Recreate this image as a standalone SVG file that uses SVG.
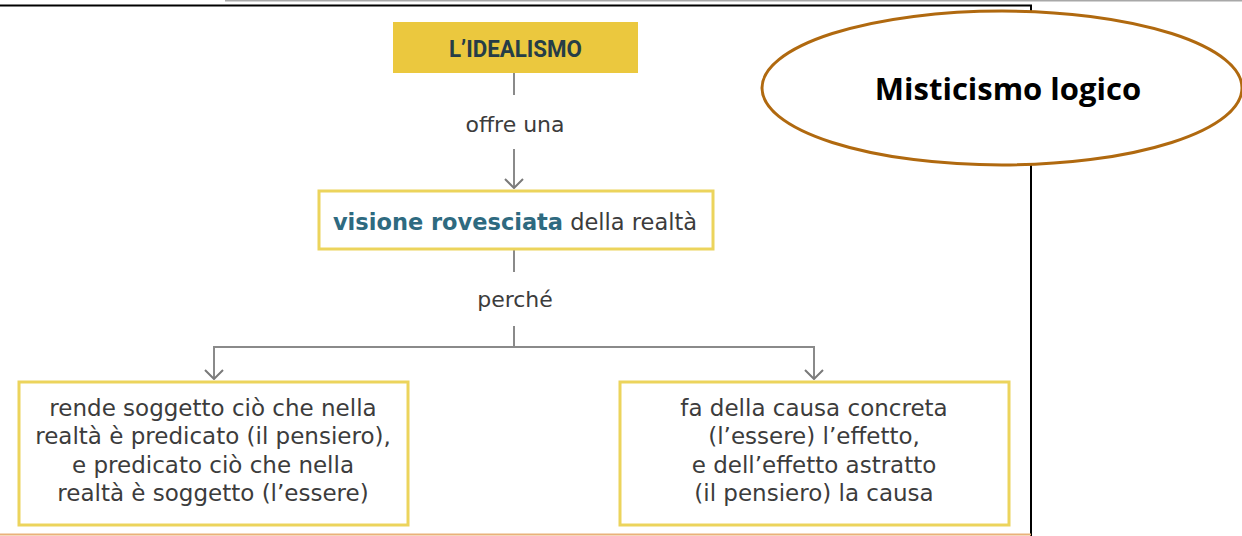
<svg xmlns="http://www.w3.org/2000/svg" width="1242" height="536" viewBox="0 0 1242 536">
<style>
.conn{stroke:#8a8a8a;stroke-width:2;fill:none}
.box{fill:#fff;stroke:#ecd45c;stroke-width:3}
.lbl{font-family:"DejaVu Sans",sans-serif;font-size:22px;fill:#3c3c3c;text-anchor:middle}
.body{font-family:"DejaVu Sans",sans-serif;font-size:23px;fill:#3c3c3c;text-anchor:middle}
</style>
<defs>
<marker id="ah" markerWidth="11" markerHeight="20" refX="10" refY="10" orient="auto-start-reverse" markerUnits="userSpaceOnUse" viewBox="0 0 11 20">
<path d="M1,1 L10,10 L1,19" fill="none" stroke="#7a7a7a" stroke-width="2"/>
</marker>
</defs>
<rect width="1242" height="536" fill="#fff"/>
<g id="frame">
<line x1="225" y1="0.5" x2="1242" y2="0.5" stroke="#a8a8a8" stroke-width="2"/>
<line x1="0" y1="5.5" x2="1032" y2="5.5" stroke="#000" stroke-width="2"/>
<line x1="1031" y1="5" x2="1031" y2="536" stroke="#000" stroke-width="2"/>
<line x1="0" y1="534.5" x2="1031" y2="534.5" stroke="#e9b27a" stroke-width="2"/>
</g>
<g id="connectors">
<line class="conn" x1="514" y1="73" x2="514" y2="95"/>
<line class="conn" x1="514" y1="149" x2="514" y2="188" marker-end="url(#ah)"/>
<line class="conn" x1="514" y1="250" x2="514" y2="272"/>
<line class="conn" x1="514" y1="326" x2="514" y2="348"/>
<path class="conn" d="M214,379 V347 H814 V379" marker-start="url(#ah)" marker-end="url(#ah)"/>
<text class="lbl" x="515" y="132">offre una</text>
<text class="lbl" x="515" y="307">perché</text>
</g>
<g id="node-idealismo">
<rect x="393" y="22" width="245" height="51" fill="#ebc83e"/>
<text x="449" y="57" font-family="Roboto,'Open Sans',sans-serif" font-weight="bold" font-size="23" fill="#263d47" textLength="133" lengthAdjust="spacingAndGlyphs">L’IDEALISMO</text>
</g>
<g id="node-visione">
<rect class="box" x="319" y="191" width="394" height="58"/>
<text x="515" y="230" font-family="'DejaVu Sans',sans-serif" font-size="22.5" text-anchor="middle"><tspan font-weight="bold" fill="#2e6a80">visione rovesciata</tspan><tspan fill="#3c3c3c"> della realtà</tspan></text>
</g>
<g id="node-left">
<rect class="box" x="19" y="382" width="389" height="143"/>
<text class="body" x="213" y="416">rende soggetto ciò che nella</text>
<text class="body" x="213" y="444">realtà è predicato (il pensiero),</text>
<text class="body" x="213" y="473">e predicato ciò che nella</text>
<text class="body" x="213" y="501">realtà è soggetto (l’essere)</text>
</g>
<g id="node-right">
<rect class="box" x="620" y="382" width="389" height="143"/>
<text class="body" x="814" y="416">fa della causa concreta</text>
<text class="body" x="814" y="444">(l’essere) l’effetto,</text>
<text class="body" x="814" y="473">e dell’effetto astratto</text>
<text class="body" x="814" y="501">(il pensiero) la causa</text>
</g>
<g id="node-misticismo">
<ellipse cx="1002" cy="88" rx="240" ry="77" fill="#fff" stroke="#b0690f" stroke-width="3"/>
<text x="1008" y="100" font-family="'Open Sans','Liberation Sans',sans-serif" font-weight="bold" font-size="31" fill="#000" text-anchor="middle">Misticismo logico</text>
</g>
</svg>
